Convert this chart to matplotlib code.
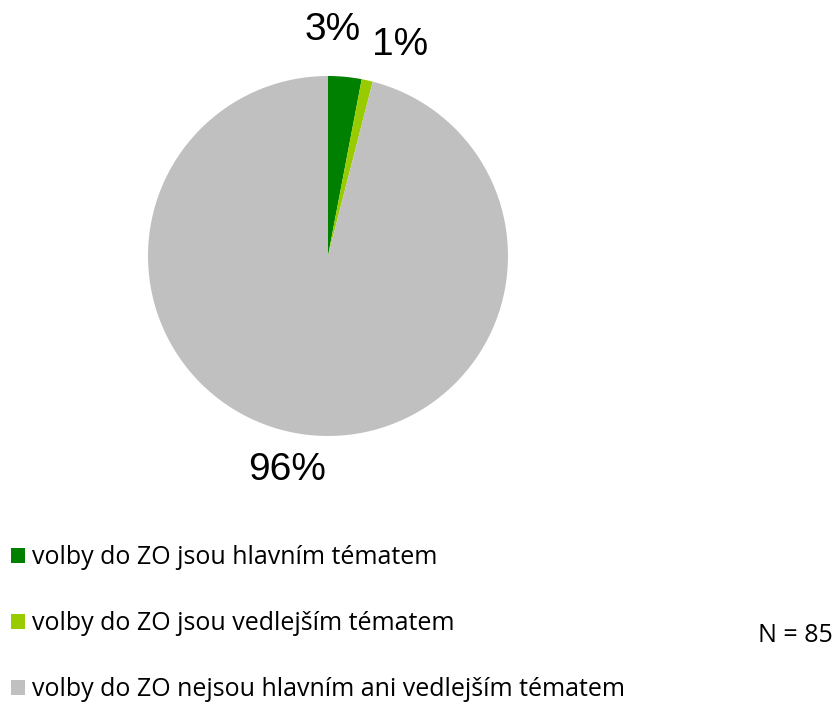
import matplotlib
matplotlib.use("Agg")
import matplotlib.pyplot as plt
from matplotlib.patches import Patch

categories = ["volby do ZO jsou hlavním tématem",
              "volby do ZO jsou vedlejším tématem",
              "volby do ZO nejsou hlavním ani vedlejším tématem"]
values = [3, 1, 96]
pct_labels = ["3%", "1%", "96%"]
colors = ["#008000", "#99CC00", "#C0C0C0"]
n_text = "N = 85"

W, H = 835, 702
fig = plt.figure(figsize=(W / 100, H / 100), dpi=100)
cx, cy, r = 328, 256, 180
ax = fig.add_axes([(cx - r) / W, (H - cy - r) / H, 2 * r / W, 2 * r / H])
wedges, texts = ax.pie(values, colors=colors, startangle=90, counterclock=False,
                       labels=pct_labels, labeldistance=1.24,
                       wedgeprops=dict(linewidth=0))
label_pos = [(0.028, 1.256), (0.40, 1.172), (-0.228, -1.189)]
for t, p in zip(texts, label_pos):
    t.set_position(p)
    t.set_fontfamily("Liberation Sans")
    t.set_fontsize(28)
    t.set_ha("center")
    t.set_va("center")
    t.set_clip_on(False)
ax.set_xlim(-1, 1)
ax.set_ylim(-1, 1)
ax.set_aspect("equal")

handles = [Patch(facecolor=c, edgecolor="none") for c in colors]
leg = fig.legend(handles, categories, loc="upper left",
                 bbox_to_anchor=(11 / W, 1 - 545 / H), frameon=False,
                 prop=dict(family="Open Sans", size=18),
                 handlelength=0.55, handleheight=0.55, handletextpad=0.3,
                 labelspacing=1.64, borderaxespad=0, borderpad=0)

fig.text(833 / W, 1 - 636 / H, n_text, fontfamily="Open Sans", fontsize=18,
         ha="right", va="center")

fig.savefig("out.png", dpi=100)
